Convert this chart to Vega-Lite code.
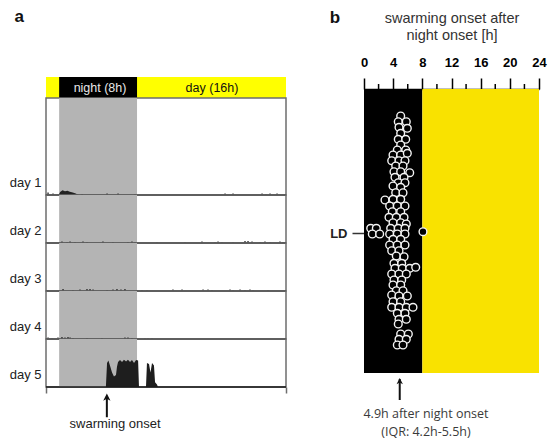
{
  "$schema": "https://vega.github.io/schema/vega-lite/v6.json",
  "background": "white",
  "padding": {"left": 8, "top": 8, "right": 5, "bottom": 5},
  "config": {"view": {"stroke": "#6e6e6e", "strokeWidth": 1.5}, "font": "Liberation Sans"},
  "datasets": {
    "header": [
      {"start": -1.35, "end": 23.3, "phase": "day"},
      {"start": 0, "end": 8, "phase": "night"}
    ],
    "phaseb": [
      {"start": 0, "end": 8, "phase": "night"},
      {"start": 8, "end": 24, "phase": "day"}
    ],
    "minor": [{"m": 2}, {"m": 6}, {"m": 10}, {"m": 14}, {"m": 18}, {"m": 22}],
    "act": [
      {"day": 1, "t": -0.05, "a": 0},
      {"day": 1, "t": 0.1, "a": 0.06},
      {"day": 1, "t": 0.35, "a": 0.1},
      {"day": 1, "t": 0.6, "a": 0.08},
      {"day": 1, "t": 0.85, "a": 0.09},
      {"day": 1, "t": 1.1, "a": 0.07},
      {"day": 1, "t": 1.4, "a": 0.05},
      {"day": 1, "t": 1.7, "a": 0.03},
      {"day": 1, "t": 2.0, "a": 0.0},
      {"day": 5, "t": 4.8, "a": 0},
      {"day": 5, "t": 4.92, "a": 0.5},
      {"day": 5, "t": 5.06, "a": 0.55},
      {"day": 5, "t": 5.22, "a": 0.45},
      {"day": 5, "t": 5.43, "a": 0.3},
      {"day": 5, "t": 5.63, "a": 0.22},
      {"day": 5, "t": 5.84, "a": 0.25},
      {"day": 5, "t": 5.94, "a": 0.42},
      {"day": 5, "t": 6.05, "a": 0.52},
      {"day": 5, "t": 6.25, "a": 0.56},
      {"day": 5, "t": 6.46, "a": 0.52},
      {"day": 5, "t": 6.66, "a": 0.57},
      {"day": 5, "t": 6.87, "a": 0.53},
      {"day": 5, "t": 7.07, "a": 0.57},
      {"day": 5, "t": 7.28, "a": 0.52},
      {"day": 5, "t": 7.48, "a": 0.56},
      {"day": 5, "t": 7.69, "a": 0.5},
      {"day": 5, "t": 7.9, "a": 0.56},
      {"day": 5, "t": 8.11, "a": 0.55},
      {"day": 5, "t": 8.2, "a": 0},
      {"day": 5, "t": 8.92, "a": 0},
      {"day": 5, "t": 9.02, "a": 0.5},
      {"day": 5, "t": 9.23, "a": 0.48},
      {"day": 5, "t": 9.38, "a": 0.3},
      {"day": 5, "t": 9.54, "a": 0.5},
      {"day": 5, "t": 9.74, "a": 0.45},
      {"day": 5, "t": 9.85, "a": 0.1},
      {"day": 5, "t": 10.05, "a": 0.05},
      {"day": 5, "t": 10.15, "a": 0}
    ],
    "specks": [
      {"day": 1, "t": -1.14, "a": 0.05}, {"day": 1, "t": -0.63, "a": 0.03}, {"day": 1, "t": 2.35, "a": 0.02},
      {"day": 1, "t": 4.92, "a": 0.03}, {"day": 1, "t": 6.05, "a": 0.03}, {"day": 1, "t": 7.79, "a": 0.02},
      {"day": 1, "t": 17.04, "a": 0.03}, {"day": 1, "t": 17.86, "a": 0.03}, {"day": 1, "t": 20.84, "a": 0.03},
      {"day": 1, "t": 21.25, "a": 0.02}, {"day": 1, "t": 21.66, "a": 0.03}, {"day": 1, "t": 22.38, "a": 0.03},
      {"day": 2, "t": 0.29, "a": 0.03}, {"day": 2, "t": 0.81, "a": 0.02}, {"day": 2, "t": 1.12, "a": 0.03},
      {"day": 2, "t": 1.63, "a": 0.02}, {"day": 2, "t": 2.45, "a": 0.03}, {"day": 2, "t": 2.86, "a": 0.02},
      {"day": 2, "t": 4.5, "a": 0.03}, {"day": 2, "t": 5.53, "a": 0.02}, {"day": 2, "t": 7.07, "a": 0.02},
      {"day": 2, "t": 7.48, "a": 0.03}, {"day": 2, "t": 7.79, "a": 0.02}, {"day": 2, "t": 10.05, "a": 0.02},
      {"day": 2, "t": 12.93, "a": 0.02}, {"day": 2, "t": 14.67, "a": 0.03}, {"day": 2, "t": 16.01, "a": 0.02},
      {"day": 2, "t": 16.32, "a": 0.03}, {"day": 2, "t": 16.73, "a": 0.02}, {"day": 2, "t": 17.86, "a": 0.02},
      {"day": 2, "t": 19.09, "a": 0.04}, {"day": 2, "t": 19.4, "a": 0.04}, {"day": 2, "t": 19.81, "a": 0.03},
      {"day": 2, "t": 20.63, "a": 0.02}, {"day": 2, "t": 21.14, "a": 0.03}, {"day": 2, "t": 21.66, "a": 0.02},
      {"day": 2, "t": 22.68, "a": 0.03}, {"day": 2, "t": 22.99, "a": 0.02},
      {"day": 3, "t": -1.14, "a": 0.02}, {"day": 3, "t": 0.4, "a": 0.04}, {"day": 3, "t": 1.42, "a": 0.02},
      {"day": 3, "t": 2.14, "a": 0.03}, {"day": 3, "t": 2.86, "a": 0.04}, {"day": 3, "t": 3.17, "a": 0.04},
      {"day": 3, "t": 3.48, "a": 0.03}, {"day": 3, "t": 4.92, "a": 0.02}, {"day": 3, "t": 5.53, "a": 0.03},
      {"day": 3, "t": 5.94, "a": 0.04}, {"day": 3, "t": 6.35, "a": 0.03}, {"day": 3, "t": 6.76, "a": 0.04},
      {"day": 3, "t": 8.0, "a": 0.02}, {"day": 3, "t": 8.51, "a": 0.02}, {"day": 3, "t": 9.02, "a": 0.02},
      {"day": 3, "t": 11.69, "a": 0.03}, {"day": 3, "t": 12.62, "a": 0.03}, {"day": 3, "t": 14.78, "a": 0.03},
      {"day": 3, "t": 15.29, "a": 0.03}, {"day": 3, "t": 15.7, "a": 0.02}, {"day": 3, "t": 17.55, "a": 0.03},
      {"day": 3, "t": 17.86, "a": 0.02}, {"day": 3, "t": 18.58, "a": 0.03}, {"day": 3, "t": 19.09, "a": 0.02},
      {"day": 3, "t": 19.6, "a": 0.03}, {"day": 3, "t": 19.91, "a": 0.02}, {"day": 3, "t": 21.45, "a": 0.02},
      {"day": 4, "t": -1.14, "a": 0.03}, {"day": 4, "t": -0.73, "a": 0.02}, {"day": 4, "t": -0.12, "a": 0.03},
      {"day": 4, "t": 0.29, "a": 0.04}, {"day": 4, "t": 0.6, "a": 0.03}, {"day": 4, "t": 0.91, "a": 0.04},
      {"day": 4, "t": 1.12, "a": 0.03}, {"day": 4, "t": 1.42, "a": 0.02}, {"day": 4, "t": 2.86, "a": 0.02},
      {"day": 4, "t": 4.4, "a": 0.02}, {"day": 4, "t": 6.76, "a": 0.03}, {"day": 4, "t": 7.07, "a": 0.03},
      {"day": 4, "t": 7.48, "a": 0.02}, {"day": 4, "t": 8.82, "a": 0.02}, {"day": 4, "t": 9.13, "a": 0.02},
      {"day": 4, "t": 9.54, "a": 0.02}
    ],
    "onset": [
      {"h": 5.03, "s": -11.7}, {"h": 4.70, "s": -11.13}, {"h": 5.80, "s": -11.13}, {"h": 4.80, "s": -10.57},
      {"h": 5.94, "s": -10.47}, {"h": 5.03, "s": -9.97}, {"h": 4.70, "s": -9.37}, {"h": 5.72, "s": -9.37},
      {"h": 5.03, "s": -8.8}, {"h": 4.57, "s": -8.3}, {"h": 5.72, "s": -8.3}, {"h": 3.98, "s": -7.8},
      {"h": 5.03, "s": -7.8}, {"h": 5.94, "s": -7.97}, {"h": 3.80, "s": -7.23}, {"h": 4.80, "s": -7.23},
      {"h": 5.62, "s": -7.23}, {"h": 4.35, "s": -6.7}, {"h": 5.35, "s": -6.7}, {"h": 4.11, "s": -6.13},
      {"h": 5.03, "s": -6.13}, {"h": 6.27, "s": -6.03}, {"h": 4.25, "s": -5.57}, {"h": 5.49, "s": -5.57},
      {"h": 4.70, "s": -5.03}, {"h": 5.62, "s": -5.03}, {"h": 3.98, "s": -4.7}, {"h": 5.03, "s": -4.57},
      {"h": 4.35, "s": -4.03}, {"h": 5.35, "s": -4.03}, {"h": 2.88, "s": -3.3}, {"h": 3.98, "s": -3.37},
      {"h": 5.03, "s": -3.37}, {"h": 3.52, "s": -2.7}, {"h": 4.57, "s": -2.7}, {"h": 5.62, "s": -2.7},
      {"h": 3.88, "s": -2.13}, {"h": 5.03, "s": -2.13}, {"h": 3.43, "s": -1.57}, {"h": 4.43, "s": -1.57},
      {"h": 5.49, "s": -1.57}, {"h": 3.98, "s": -1.03}, {"h": 5.03, "s": -1.03}, {"h": 5.80, "s": -0.9},
      {"h": 0.92, "s": -0.47}, {"h": 1.69, "s": -0.47}, {"h": 1.14, "s": 0.1}, {"h": 2.15, "s": 0.1},
      {"h": 8.09, "s": -0.13},
      {"h": 3.66, "s": -0.47}, {"h": 4.70, "s": -0.47}, {"h": 5.62, "s": -0.47}, {"h": 3.52, "s": 0.1},
      {"h": 4.57, "s": 0.1}, {"h": 5.62, "s": 0.1}, {"h": 3.98, "s": 0.63}, {"h": 5.03, "s": 0.63},
      {"h": 3.52, "s": 1.2}, {"h": 4.57, "s": 1.2}, {"h": 5.62, "s": 1.2}, {"h": 3.80, "s": 1.77},
      {"h": 4.80, "s": 1.77}, {"h": 4.43, "s": 2.3}, {"h": 5.49, "s": 2.37}, {"h": 4.11, "s": 3.03},
      {"h": 5.17, "s": 3.03}, {"h": 4.25, "s": 3.53}, {"h": 5.25, "s": 3.53}, {"h": 6.27, "s": 3.53},
      {"h": 7.09, "s": 3.43}, {"h": 3.80, "s": 4.1}, {"h": 4.80, "s": 4.1}, {"h": 5.80, "s": 4.1},
      {"h": 4.11, "s": 4.7}, {"h": 5.17, "s": 4.7}, {"h": 3.98, "s": 5.2}, {"h": 5.03, "s": 5.2},
      {"h": 4.43, "s": 5.77}, {"h": 5.35, "s": 5.77}, {"h": 3.80, "s": 6.2}, {"h": 4.80, "s": 6.3},
      {"h": 5.94, "s": 6.3}, {"h": 3.98, "s": 6.87}, {"h": 5.03, "s": 6.87}, {"h": 3.80, "s": 7.43},
      {"h": 4.80, "s": 7.43}, {"h": 5.80, "s": 7.43}, {"h": 6.72, "s": 7.43}, {"h": 4.57, "s": 8.03},
      {"h": 5.62, "s": 8.03}, {"h": 4.80, "s": 8.63}, {"h": 5.80, "s": 8.63}, {"h": 4.70, "s": 9.1},
      {"h": 5.03, "s": 10.1}, {"h": 6.08, "s": 10.1}, {"h": 4.80, "s": 10.63}, {"h": 5.80, "s": 10.63},
      {"h": 4.57, "s": 11.2}, {"h": 5.35, "s": 11.2}
    ]
  },
  "resolve": {"scale": {"color": "independent"}},
  "spacing": 41,
  "hconcat": [
    {
      "title": {"text": "a", "anchor": "start", "frame": "bounds", "fontSize": 17, "fontWeight": "bold", "offset": 51, "dx": 6, "color": "#111"},
      "spacing": 0,
      "bounds": "flush",
      "vconcat": [
        {
          "width": 240, "height": 21,
          "view": {"stroke": null},
          "layer": [
            {"data": {"name": "header"}, "mark": {"type": "rect"},
             "encoding": {"x": {"field": "start", "type": "quantitative", "scale": {"domain": [-1.35, 23.3], "nice": false}, "axis": null},
                          "x2": {"field": "end"},
                          "color": {"field": "phase", "type": "nominal", "scale": {"domain": ["day", "night"], "range": ["#ffff00", "#000000"]}, "legend": null}}},
            {"data": {"values": [{}]}, "mark": {"type": "text", "text": "night (8h)", "color": "#e8e8e8", "fontSize": 12.5, "font": "Liberation Sans"},
             "encoding": {"x": {"datum": 4.2}}},
            {"data": {"values": [{}]}, "mark": {"type": "text", "text": "day (16h)", "color": "#111", "fontSize": 12.5, "font": "Liberation Sans"},
             "encoding": {"x": {"datum": 15.7}}}
          ]
        },
        {
          "width": 240, "height": 97,
          "layer": [
            {"data": {"values": [{"start": 0, "end": 8}]}, "mark": {"type": "rect", "color": "#b4b4b4"},
             "encoding": {"x": {"field": "start", "type": "quantitative", "scale": {"domain": [-1.35, 23.3], "nice": false}, "axis": null}, "x2": {"field": "end"}}},
            {"data": {"name": "specks"}, "transform": [{"filter": "datum.day == 1"}], "mark": {"type": "rule", "color": "#222", "strokeWidth": 1.3},
             "encoding": {"x": {"field": "t", "type": "quantitative"},
                          "y": {"field": "a", "type": "quantitative", "scale": {"domain": [0, 2.02], "nice": false},
                                "axis": {"values": [0.27], "labelExpr": "'day 1'", "ticks": false, "domain": false, "grid": false, "title": null, "labelPadding": 5, "labelFontSize": 13, "labelColor": "#222"}},
                          "y2": {"datum": 0}}},
            {"data": {"name": "act"}, "transform": [{"filter": "datum.day == 1"}], "mark": {"type": "area", "color": "#222"},
             "encoding": {"x": {"field": "t", "type": "quantitative"}, "y": {"field": "a", "type": "quantitative"}}},
            {"data": {"values": [{}]}, "mark": {"type": "rule", "color": "#1a1a1a", "strokeWidth": 1.6}, "encoding": {"y": {"datum": 0}}}
          ]
        },
        {
          "width": 240, "height": 48,
          "layer": [
            {"data": {"values": [{"start": 0, "end": 8}]}, "mark": {"type": "rect", "color": "#b4b4b4"},
             "encoding": {"x": {"field": "start", "type": "quantitative", "scale": {"domain": [-1.35, 23.3], "nice": false}, "axis": null}, "x2": {"field": "end"}}},
            {"data": {"name": "specks"}, "transform": [{"filter": "datum.day == 2"}], "mark": {"type": "rule", "color": "#222", "strokeWidth": 1.3},
             "encoding": {"x": {"field": "t", "type": "quantitative"},
                          "y": {"field": "a", "type": "quantitative", "scale": {"domain": [0, 1], "nice": false},
                                "axis": {"values": [0.27], "labelExpr": "'day 2'", "ticks": false, "domain": false, "grid": false, "title": null, "labelPadding": 5, "labelFontSize": 13, "labelColor": "#222"}},
                          "y2": {"datum": 0}}},
            {"data": {"values": [{}]}, "mark": {"type": "rule", "color": "#1a1a1a", "strokeWidth": 1.6}, "encoding": {"y": {"datum": 0}}}
          ]
        },
        {
          "width": 240, "height": 48,
          "layer": [
            {"data": {"values": [{"start": 0, "end": 8}]}, "mark": {"type": "rect", "color": "#b4b4b4"},
             "encoding": {"x": {"field": "start", "type": "quantitative", "scale": {"domain": [-1.35, 23.3], "nice": false}, "axis": null}, "x2": {"field": "end"}}},
            {"data": {"name": "specks"}, "transform": [{"filter": "datum.day == 3"}], "mark": {"type": "rule", "color": "#222", "strokeWidth": 1.3},
             "encoding": {"x": {"field": "t", "type": "quantitative"},
                          "y": {"field": "a", "type": "quantitative", "scale": {"domain": [0, 1], "nice": false},
                                "axis": {"values": [0.27], "labelExpr": "'day 3'", "ticks": false, "domain": false, "grid": false, "title": null, "labelPadding": 5, "labelFontSize": 13, "labelColor": "#222"}},
                          "y2": {"datum": 0}}},
            {"data": {"values": [{}]}, "mark": {"type": "rule", "color": "#1a1a1a", "strokeWidth": 1.6}, "encoding": {"y": {"datum": 0}}}
          ]
        },
        {
          "width": 240, "height": 48,
          "layer": [
            {"data": {"values": [{"start": 0, "end": 8}]}, "mark": {"type": "rect", "color": "#b4b4b4"},
             "encoding": {"x": {"field": "start", "type": "quantitative", "scale": {"domain": [-1.35, 23.3], "nice": false}, "axis": null}, "x2": {"field": "end"}}},
            {"data": {"name": "specks"}, "transform": [{"filter": "datum.day == 4"}], "mark": {"type": "rule", "color": "#222", "strokeWidth": 1.3},
             "encoding": {"x": {"field": "t", "type": "quantitative"},
                          "y": {"field": "a", "type": "quantitative", "scale": {"domain": [0, 1], "nice": false},
                                "axis": {"values": [0.27], "labelExpr": "'day 4'", "ticks": false, "domain": false, "grid": false, "title": null, "labelPadding": 5, "labelFontSize": 13, "labelColor": "#222"}},
                          "y2": {"datum": 0}}},
            {"data": {"values": [{}]}, "mark": {"type": "rule", "color": "#1a1a1a", "strokeWidth": 1.6}, "encoding": {"y": {"datum": 0}}}
          ]
        },
        {
          "width": 240, "height": 48,
          "layer": [
            {"data": {"values": [{"start": 0, "end": 8}]}, "mark": {"type": "rect", "color": "#b4b4b4"},
             "encoding": {"x": {"field": "start", "type": "quantitative", "scale": {"domain": [-1.35, 23.3], "nice": false},
                                "axis": {"values": [-1.35, 23.3], "tickCount": 10, "labels": false, "tickSize": 6, "tickWidth": 1.5, "tickColor": "#6e6e6e", "domain": false, "grid": false, "title": null}},
                          "x2": {"field": "end"}}},
            {"data": {"name": "act"}, "transform": [{"filter": "datum.day == 5"}], "mark": {"type": "area", "color": "#1e1e1e"},
             "encoding": {"x": {"field": "t", "type": "quantitative"},
                          "y": {"field": "a", "type": "quantitative", "scale": {"domain": [0, 1], "nice": false},
                                "axis": {"values": [0.27], "labelExpr": "'day 5'", "ticks": false, "domain": false, "grid": false, "title": null, "labelPadding": 5, "labelFontSize": 13, "labelColor": "#222"}}}},
            {"data": {"values": [{}]}, "mark": {"type": "rule", "color": "#1a1a1a", "strokeWidth": 1.6}, "encoding": {"y": {"datum": 0}}},
            {"data": {"values": [{}]}, "mark": {"type": "rule", "color": "#111", "strokeWidth": 2},
             "encoding": {"x": {"datum": 4.9}, "y": {"datum": -0.2}, "y2": {"datum": -0.63}}},
            {"data": {"values": [{}]}, "mark": {"type": "point", "shape": "M0,-0.5L0.45,0.4L0,0.15L-0.45,0.4Z", "filled": true, "color": "#111", "size": 260, "opacity": 1},
             "encoding": {"x": {"datum": 4.9}, "y": {"datum": -0.22}}},
            {"data": {"values": [{}]}, "mark": {"type": "text", "text": "swarming onset", "fontSize": 13, "color": "#222", "baseline": "middle", "font": "Liberation Sans"},
             "encoding": {"x": {"datum": 5.74}, "y": {"datum": -0.78}}}
          ]
        }
      ]
    },
    {
      "title": {"text": "b", "anchor": "start", "frame": "bounds", "fontSize": 17, "fontWeight": "bold", "offset": -17, "color": "#111"},
      "width": 175, "height": 296,
      "view": {"stroke": null},
      "layer": [
        {"data": {"name": "phaseb"}, "mark": {"type": "rect"},
         "encoding": {"x": {"field": "start", "type": "quantitative", "scale": {"domain": [0, 24], "nice": false},
                            "axis": {"orient": "top", "values": [0, 4, 8, 12, 16, 20, 24], "tickCount": 20, "offset": -12,
                                     "tickSize": 11, "tickWidth": 1.5, "tickColor": "#000", "domainColor": "#000", "domainWidth": 1.5,
                                     "labelFont": "Liberation Sans", "labelFontWeight": "bold", "labelFontSize": 13, "labelColor": "#000",
                                     "labelPadding": 9, "labelFlush": false, "labelOverlap": false, "grid": false,
                                     "title": ["swarming onset after", "night onset [h]"], "titleFont": "Liberation Sans", "titleFontWeight": "normal",
                                     "titleFontSize": 14.5, "titleLineHeight": 17, "titleColor": "#333", "titlePadding": 14}},
                      "x2": {"field": "end"},
                      "y": {"datum": -14.4, "type": "quantitative", "scale": {"domain": [-15.6, 14.0], "nice": false, "reverse": true},
                            "axis": {"values": [0], "labelExpr": "'LD'", "tickSize": 12, "tickWidth": 1.5, "tickColor": "#333", "domain": false, "grid": false, "title": null,
                                     "labelFontWeight": "bold", "labelFontSize": 13, "labelColor": "#222", "labelPadding": 5}},
                      "y2": {"datum": 14.0},
                      "color": {"field": "phase", "type": "nominal", "scale": {"domain": ["night", "day"], "range": ["#000000", "#f9e200"]}, "legend": null}}},
        {"data": {"name": "minor"}, "mark": {"type": "rule", "color": "#000", "strokeWidth": 1.5},
         "encoding": {"x": {"field": "m", "type": "quantitative"}, "y": {"datum": -14.4}, "y2": {"datum": -14.9}}},
        {"data": {"name": "onset"}, "mark": {"type": "point", "shape": "circle", "filled": true, "fill": "#000", "stroke": "#f4f4f4", "strokeWidth": 1.4, "size": 60, "opacity": 1},
         "encoding": {"x": {"field": "h", "type": "quantitative"},
                      "y": {"field": "s", "type": "quantitative"}}},
        {"data": {"values": [{}]}, "mark": {"type": "rule", "color": "#111", "strokeWidth": 2},
         "encoding": {"x": {"datum": 4.9}, "y": {"datum": 14.6}, "y2": {"datum": 16.7}}},
        {"data": {"values": [{}]}, "mark": {"type": "point", "shape": "M0,-0.5L0.45,0.4L0,0.15L-0.45,0.4Z", "filled": true, "color": "#111", "size": 200, "opacity": 1},
         "encoding": {"x": {"datum": 4.9}, "y": {"datum": 14.85}}},
        {"data": {"values": [{}]}, "mark": {"type": "text", "text": "4.9h after night onset", "font": "Open Sans", "fontSize": 12.5, "color": "#3a3a3a"},
         "encoding": {"x": {"datum": 8.5}, "y": {"datum": 18.1}}},
        {"data": {"values": [{}]}, "mark": {"type": "text", "text": "(IQR: 4.2h-5.5h)", "font": "Open Sans", "fontSize": 12.5, "color": "#3a3a3a"},
         "encoding": {"x": {"datum": 8.5}, "y": {"datum": 19.9}}}
      ]
    }
  ]
}
